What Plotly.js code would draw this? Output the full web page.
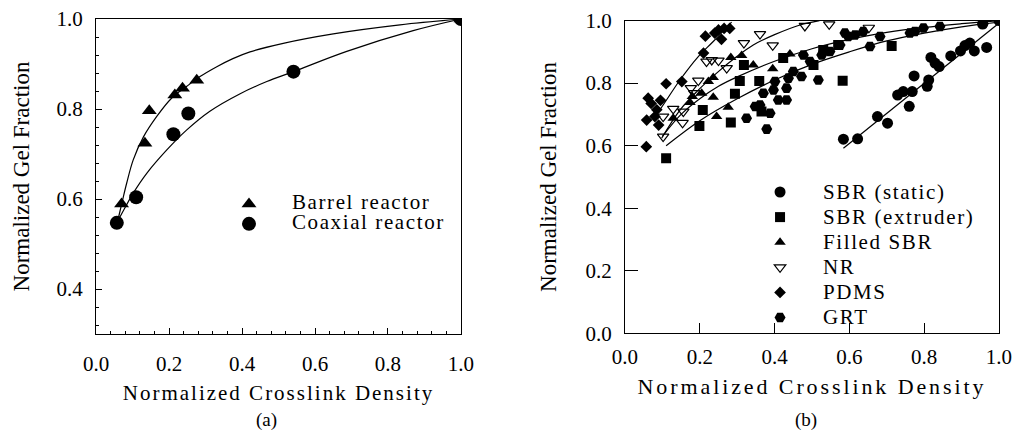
<!DOCTYPE html>
<html><head><meta charset="utf-8">
<script src="https://cdn.plot.ly/plotly-3.0.1.min.js"></script>
<style>
html,body{margin:0;padding:0;background:#fff;}
#chart{width:1013px;height:437px;}
.legendtext, .infolayer g.traces text{font-size:21px !important;letter-spacing:1.6px !important;}
text.xtitle{letter-spacing:2px;}
text.x2title{letter-spacing:2.9px;}
</style></head>
<body><div id="chart"></div>
<script>
// ---------- Panel (a) ----------
const aBarrelX = [0.070, 0.134, 0.146, 0.216, 0.237, 0.276, 1.0];
const aBarrelY = [0.589, 0.724, 0.796, 0.831, 0.846, 0.864, 1.0];
const aCoaxX = [0.057, 0.110, 0.212, 0.253, 0.541, 1.0];
const aCoaxY = [0.547, 0.604, 0.744, 0.790, 0.883, 1.0];
const aBarrelFitX = [0.062, 0.073, 0.084, 0.102, 0.130, 0.166, 0.207, 0.248, 0.285, 0.331, 0.375, 0.422, 0.513, 0.650, 0.833, 1.0];
const aBarrelFitY = [0.560, 0.598, 0.635, 0.687, 0.738, 0.783, 0.824, 0.850, 0.872, 0.894, 0.912, 0.927, 0.946, 0.967, 0.987, 1.0];
const aCoaxFitX = [0.057, 0.079, 0.102, 0.139, 0.194, 0.248, 0.312, 0.395, 0.468, 0.541, 0.687, 0.869, 1.0];
const aCoaxFitY = [0.547, 0.580, 0.613, 0.657, 0.709, 0.753, 0.795, 0.834, 0.861, 0.883, 0.928, 0.974, 1.0];

// ---------- Panel (b) ----------
const bStaticX = [0.584, 0.622, 0.675, 0.702, 0.729, 0.744, 0.760, 0.768, 0.773, 0.808, 0.812, 0.818, 0.829, 0.840, 0.871, 0.897, 0.909, 0.922, 0.934, 0.967, 0.956, 1.0];
const bStaticY = [0.621, 0.622, 0.693, 0.672, 0.762, 0.773, 0.726, 0.773, 0.823, 0.790, 0.810, 0.882, 0.864, 0.853, 0.887, 0.903, 0.920, 0.928, 0.903, 0.914, 0.989, 1.0];
const bExtrX = [0.110, 0.199, 0.208, 0.283, 0.294, 0.307, 0.318, 0.359, 0.365, 0.423, 0.504, 0.530, 0.570, 0.582, 0.713];
const bExtrY = [0.560, 0.663, 0.714, 0.674, 0.766, 0.807, 0.858, 0.807, 0.709, 0.880, 0.858, 0.906, 0.922, 0.808, 0.919];
const bFilledX = [0.129, 0.174, 0.180, 0.205, 0.223, 0.236, 0.236, 0.276, 0.283, 0.312, 0.343, 0.395, 0.441, 0.245];
const bFilledY = [0.688, 0.738, 0.757, 0.768, 0.805, 0.818, 0.755, 0.723, 0.882, 0.888, 0.858, 0.846, 0.893, 0.693];
const bNRX = [0.102, 0.102, 0.129, 0.154, 0.156, 0.176, 0.185, 0.196, 0.218, 0.232, 0.250, 0.272, 0.318, 0.361, 0.395, 0.481, 0.546, 0.652];
const bNRY = [0.629, 0.693, 0.718, 0.673, 0.709, 0.784, 0.768, 0.808, 0.869, 0.874, 0.872, 0.848, 0.928, 0.957, 0.921, 0.983, 0.988, 0.977];
const bPDMSX = [0.057, 0.058, 0.062, 0.070, 0.080, 0.085, 0.090, 0.095, 0.110, 0.152, 0.210, 0.215, 0.240, 0.250, 0.258, 0.265, 0.280];
const bPDMSY = [0.597, 0.682, 0.752, 0.735, 0.693, 0.715, 0.666, 0.745, 0.798, 0.805, 0.896, 0.950, 0.960, 0.970, 0.940, 0.975, 0.975];
const bGRTX = [0.325, 0.379, 0.348, 0.361, 0.370, 0.388, 0.397, 0.401, 0.410, 0.432, 0.432, 0.437, 0.450, 0.472, 0.477, 0.495, 0.517, 0.526, 0.548, 0.575, 0.588, 0.597, 0.615, 0.637, 0.655, 0.682, 0.762, 0.775, 0.798, 0.842, 0.958];
const bGRTY = [0.688, 0.653, 0.725, 0.730, 0.768, 0.704, 0.778, 0.805, 0.746, 0.746, 0.784, 0.816, 0.837, 0.821, 0.890, 0.869, 0.810, 0.890, 0.901, 0.922, 0.960, 0.949, 0.954, 0.965, 0.917, 0.949, 0.960, 0.965, 0.976, 0.981, 0.990];

const bPDMSFitX = [0.085, 0.111, 0.147, 0.196, 0.236, 0.285];
const bPDMSFitY = [0.700, 0.746, 0.810, 0.885, 0.933, 0.995];
const bNRFitX = [0.098, 0.147, 0.192, 0.245, 0.299, 0.343, 0.400, 0.468, 0.520];
const bNRFitY = [0.624, 0.714, 0.773, 0.832, 0.885, 0.922, 0.955, 0.986, 1.0];
const bFilledFitX = [0.10, 0.15, 0.20, 0.25, 0.30, 0.40, 0.50, 0.60, 0.70, 0.80, 0.90, 1.0];
const bFilledFitY = [0.63, 0.70, 0.75, 0.79, 0.82, 0.87, 0.91, 0.94, 0.962, 0.978, 0.99, 1.0];
const bExtrFitX = [0.11, 0.2, 0.3, 0.4, 0.5, 0.6, 0.7, 0.8, 0.9, 1.0];
const bExtrFitY = [0.60, 0.68, 0.75, 0.81, 0.86, 0.90, 0.935, 0.96, 0.98, 0.995];
const bStaticFitX = [0.584, 0.998];
const bStaticFitY = [0.592, 0.990];

const axisTickVals = [0, 0.2, 0.4, 0.6, 0.8, 1.0];

const SERIF = 'Liberation Serif, Times New Roman, serif';
const BLACK = '#000';

function fit(x, y, xa, ya) {
  return {x: x, y: y, xaxis: xa, yaxis: ya, mode: 'lines', type: 'scatter',
    line: {color: BLACK, width: 1.2, shape: 'spline', smoothing: 1}, showlegend: false, hoverinfo: 'skip'};
}
function pts(x, y, xa, ya, name, symbol, size, legend) {
  const open = symbol.indexOf('open') >= 0;
  return {x: x, y: y, xaxis: xa, yaxis: ya, mode: 'markers', type: 'scatter', name: name,
    legend: legend,
    marker: {symbol: symbol, size: size, color: BLACK, line: {color: BLACK, width: open ? 1.2 : 0}}};
}

const data = [
  fit(aBarrelFitX, aBarrelFitY, 'x', 'y'),
  fit(aCoaxFitX, aCoaxFitY, 'x', 'y'),
  pts(aBarrelX, aBarrelY, 'x', 'y', 'Barrel reactor', 'triangle-up', 13, 'legend'),
  pts(aCoaxX, aCoaxY, 'x', 'y', 'Coaxial reactor', 'circle', 14, 'legend'),

  fit(bPDMSFitX, bPDMSFitY, 'x2', 'y2'),
  fit(bNRFitX, bNRFitY, 'x2', 'y2'),
  fit(bFilledFitX, bFilledFitY, 'x2', 'y2'),
  fit(bExtrFitX, bExtrFitY, 'x2', 'y2'),
  fit(bStaticFitX, bStaticFitY, 'x2', 'y2'),
  pts(bStaticX, bStaticY, 'x2', 'y2', 'SBR (static)', 'circle', 11, 'legend2'),
  pts(bExtrX, bExtrY, 'x2', 'y2', 'SBR (extruder)', 'square', 10, 'legend2'),
  pts(bFilledX, bFilledY, 'x2', 'y2', 'Filled SBR', 'triangle-up', 10, 'legend2'),
  pts(bNRX, bNRY, 'x2', 'y2', 'NR', 'triangle-down-open', 10, 'legend2'),
  pts(bPDMSX, bPDMSY, 'x2', 'y2', 'PDMS', 'diamond', 9, 'legend2'),
  pts(bGRTX, bGRTY, 'x2', 'y2', 'GRT', 'hexagon2', 11, 'legend2')
];

const tickFont = {family: SERIF, size: 21, color: BLACK};
const commonAxis = {
  showgrid: false, zeroline: false, showline: true, linecolor: BLACK, linewidth: 1,
  mirror: true, ticks: 'inside', tickcolor: BLACK, tickfont: tickFont, fixedrange: true
};

const layout = {
  width: 1013, height: 437,
  margin: {l: 96, r: 14, t: 19, b: 103, pad: 0},
  paper_bgcolor: '#fff', plot_bgcolor: 'rgba(0,0,0,0)',
  font: {family: SERIF, color: BLACK},
  xaxis: Object.assign({}, commonAxis, {
    domain: [0, 0.4042], range: [0, 1], tickvals: axisTickVals, tickformat: '.1f',
    ticklen: 6, tickwidth: 1, ticklabelstandoff: 11,
    minor: {dtick: 0.04, tick0: 0, ticks: 'inside', ticklen: 3, tickcolor: BLACK, showgrid: false},
    title: {text: 'Normalized Crosslink Density', font: {family: SERIF, size: 21, color: BLACK}, standoff: 10}
  }),
  yaxis: Object.assign({}, commonAxis, {
    domain: [0, 1], range: [0.3, 1.0], dtick: 0.2, tick0: 0, tickformat: '.1f',
    ticklen: 6, tickwidth: 1, ticklabelstandoff: 8,
    minor: {dtick: 0.04, tick0: 0, ticks: 'inside', ticklen: 3, tickcolor: BLACK, showgrid: false},
    title: {text: 'Normalized Gel Fraction', font: {family: SERIF, size: 23, color: BLACK}, standoff: 20}
  }),
  xaxis2: Object.assign({}, commonAxis, {
    domain: [0.5858, 1], range: [0, 1], anchor: 'y2', tickvals: axisTickVals, tickformat: '.1f',
    ticklen: 10, tickwidth: 1, ticklabelstandoff: 4,
    title: {text: 'Normalized Crosslink Density', font: {family: SERIF, size: 22, color: BLACK}, standoff: 11}
  }),
  yaxis2: Object.assign({}, commonAxis, {
    domain: [0.002, 0.995], range: [0, 1], anchor: 'x2', dtick: 0.2, tick0: 0, tickformat: '.1f',
    ticklen: 13, tickwidth: 1, ticklabelstandoff: 8,
    title: {text: 'Normalized Gel Fraction', font: {family: SERIF, size: 23, color: BLACK}, standoff: 22}
  }),
  legend: {
    x: 0.1218, y: 0.4603, xanchor: 'left', yanchor: 'top', bgcolor: 'rgba(0,0,0,0)', borderwidth: 0,
    font: {family: SERIF, size: 13, color: BLACK}, itemwidth: 76, tracegroupgap: 0
  },
  legend2: {
    x: 0.7099, y: 0.5065, xanchor: 'left', yanchor: 'top', bgcolor: 'rgba(0,0,0,0)', borderwidth: 0,
    font: {family: SERIF, size: 17, color: BLACK}, itemwidth: 76, tracegroupgap: 0
  },
  annotations: [
    {text: '(a)', xref: 'paper', yref: 'paper', x: (266 - 96) / 903, y: (334 - 420) / 315,
     xanchor: 'center', yanchor: 'middle', showarrow: false, font: {family: SERIF, size: 19, color: BLACK}},
    {text: '(b)', xref: 'paper', yref: 'paper', x: (806 - 96) / 903, y: (334 - 420) / 315,
     xanchor: 'center', yanchor: 'middle', showarrow: false, font: {family: SERIF, size: 19, color: BLACK}}
  ],
  showlegend: true
};

Plotly.newPlot('chart', data, layout, {displayModeBar: false, staticPlot: true}).then(function () {
  document.querySelectorAll('.infolayer g.traces text').forEach(function (el) {
    el.style.setProperty('font-size', '21px', 'important');
    el.style.setProperty('letter-spacing', '1.6px', 'important');
  });
  document.querySelectorAll('.infolayer [clip-path]').forEach(function (el) {
    el.removeAttribute('clip-path');
  });
});
</script></body></html>
